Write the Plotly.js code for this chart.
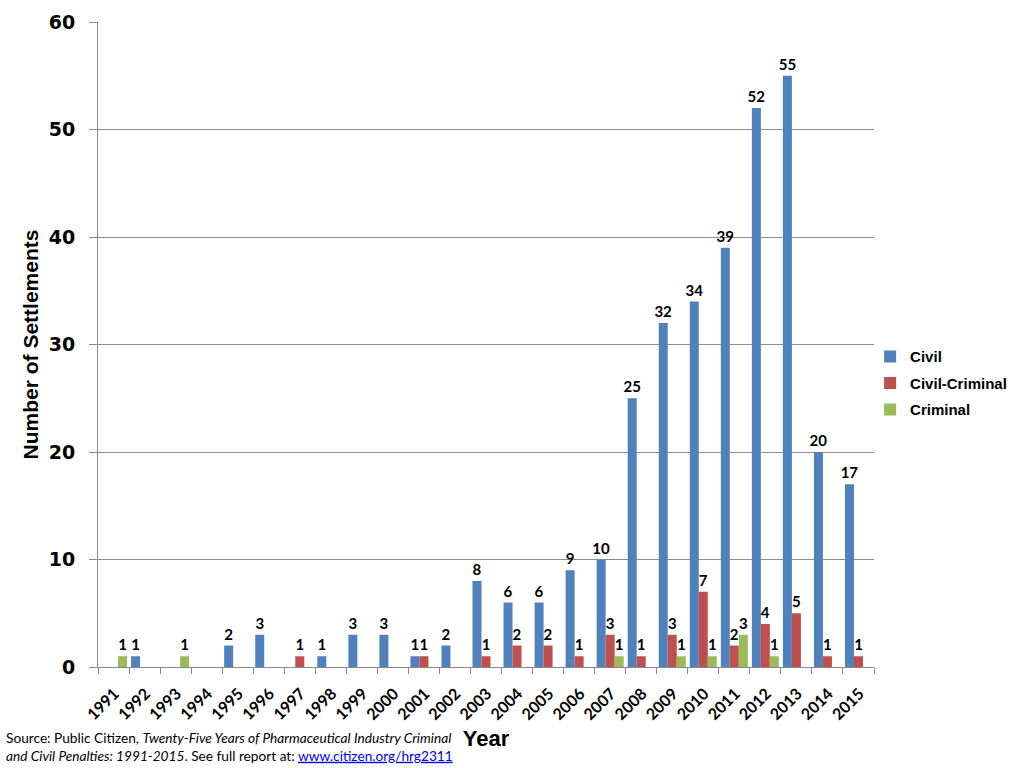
<!DOCTYPE html>
<html>
<head>
<meta charset="utf-8">
<script src="https://cdn.plot.ly/plotly-3.0.1.min.js"></script>
<style>html,body{margin:0;padding:0;background:#fff;}#chart{width:1024px;height:768px;}</style>
</head>
<body>
<div id="chart"></div>
<script>
const years = ["1991","1992","1993","1994","1995","1996","1997","1998","1999","2000","2001","2002","2003","2004","2005","2006","2007","2008","2009","2010","2011","2012","2013","2014","2015"];
const civil =          [0,1,0,0,2,3,0,1,3,3,1,2,8,6,6,9,10,25,32,34,39,52,55,20,17];
const civilCriminal =  [0,0,0,0,0,0,1,0,0,0,1,0,1,2,2,1,3,1,3,7,2,4,5,1,1];
const criminal =       [1,0,1,0,0,0,0,0,0,0,0,0,0,0,0,0,1,0,1,1,3,1,0,0,0];
const seriesNames = ["Civil","Civil-Criminal","Criminal"];
const seriesColors = ["#4F81BD","#C0504D","#9BBB59"];

function mk(vals, i){
  return {
    type:'bar', name:seriesNames[i], x:years, legendgroup:'g'+i,
    y: vals.map(v => v === 0 ? null : v),
    text: vals.map(v => v === 0 ? '' : String(v)),
    textposition:'outside', cliponaxis:false, constraintext:'none',
    textfont:{family:'Lato, "Open Sans", sans-serif', size:15, color:'#000', weight:'bold'},
    marker:{color:seriesColors[i]},
    hoverinfo:'x+y+name'
  };
}
const data = [mk(civil,0), mk(civilCriminal,1), mk(criminal,2)];

const layout = {
  width:1024, height:768,
  margin:{l:98, r:150, t:22, b:101, autoexpand:false},
  paper_bgcolor:'#fff', plot_bgcolor:'#fff',
  barmode:'group', bargap:0.13, bargroupgap:0,
  showlegend:true,
  legend:{x:0.995, xanchor:'left', y:0.44, yanchor:'middle',
    font:{family:'"Liberation Sans", Arial, sans-serif', size:15, color:'#000', weight:'bold'},
    tracegroupgap:4, itemwidth:30, bgcolor:'rgba(0,0,0,0)'},
  xaxis:{
    type:'category', tickangle:-45,
    tickfont:{family:'Lato, "Open Sans", sans-serif', size:16, color:'#000', weight:'bold'},
    ticks:'outside', tickson:'boundaries', ticklen:6, tickcolor:'#888',
    ticklabelstandoff:10, ticklabelshift:1,
    showline:true, linecolor:'#888', linewidth:1, showgrid:false,
    title:{text:'Year', font:{family:'"Liberation Sans", Arial, sans-serif', size:22, color:'#000', weight:'bold'}, standoff:8}
  },
  yaxis:{
    range:[0,60], dtick:10, tick0:0,
    tickfont:{family:'"DejaVu Sans", Verdana, sans-serif', size:19, color:'#000', weight:'bold'},
    ticks:'outside', ticklen:8, tickcolor:'#888', ticklabelstandoff:10,
    showline:true, linecolor:'#888', linewidth:1,
    showgrid:true, gridcolor:'#8c8c8c', gridwidth:1, zeroline:false,
    title:{text:'Number of Settlements', font:{family:'"Liberation Sans", Arial, sans-serif', size:21, color:'#000', weight:'bold'}, standoff:4}
  },
  annotations:[{
    xref:'paper', yref:'paper', x:-0.1215, y:-0.0925, xanchor:'left', yanchor:'top', align:'left', showarrow:false,
    font:{family:'Lato, "Open Sans", sans-serif', size:13.7, color:'#000'},
    text:'Source: Public Citizen, <i>Twenty-Five Years of Pharmaceutical Industry Criminal</i><br><i>and Civil Penalties: 1991-2015</i>. See full report at: <a href="http://www.citizen.org/hrg2311" style="color:#0000ee;text-decoration:underline">www.citizen.org/hrg2311</a>'
  }]
};
Plotly.newPlot('chart', data, layout, {displayModeBar:false, staticPlot:true});
</script>
</body>
</html>
